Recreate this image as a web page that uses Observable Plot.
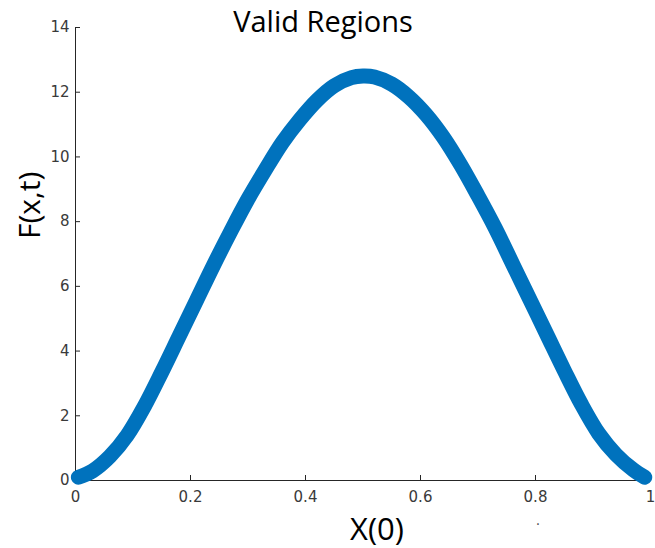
<!DOCTYPE html>
<html>
<head>
<meta charset="utf-8">
<script src="https://cdn.jsdelivr.net/npm/d3@7"></script>
<script src="https://cdn.jsdelivr.net/npm/@observablehq/plot@0.6"></script>
<style>
  html, body { margin: 0; padding: 0; background: #ffffff; }
  #chart svg { display: block; }
</style>
</head>
<body>
<div id="chart"></div>
<script>
// Values
const xValues = [0.005, 0.03, 0.06, 0.09, 0.12, 0.15, 0.18, 0.21, 0.24, 0.27, 0.30, 0.33, 0.36, 0.39, 0.42, 0.45, 0.48, 0.50,
                 0.52, 0.55, 0.58, 0.61, 0.64, 0.67, 0.70, 0.73, 0.76, 0.79, 0.82, 0.85, 0.88, 0.91, 0.94, 0.97, 0.99];
const fValues = [0.10, 0.30, 0.75, 1.40, 2.30, 3.35, 4.45, 5.55, 6.65, 7.70, 8.70, 9.60, 10.45, 11.15, 11.75, 12.20, 12.45, 12.50,
                 12.47, 12.25, 11.85, 11.30, 10.60, 9.75, 8.80, 7.80, 6.70, 5.60, 4.50, 3.40, 2.35, 1.45, 0.80, 0.33, 0.10];
const xTicks = [0, 0.2, 0.4, 0.6, 0.8, 1];
const xTickLabels = ["0", "0.2", "0.4", "0.6", "0.8", "1"];
const yTicks = [0, 2, 4, 6, 8, 10, 12, 14];
const yTickLabels = ["0", "2", "4", "6", "8", "10", "12", "14"];
const titleText = "Valid Regions";
const xLabel = "X(0)";
const yLabel = "F(x,t)";

const data = xValues.map((x, i) => ({x, f: fValues[i]}));

const chart = Plot.plot({
  width: 655,
  height: 548,
  marginLeft: 75,
  marginRight: 5,
  marginTop: 27,
  marginBottom: 68,
  style: {fontFamily: "DejaVu Sans, sans-serif", fontSize: "15px", color: "#333333", background: "#ffffff"},
  x: {domain: [0, 1]},
  y: {domain: [0, 14]},
  marks: [
    Plot.ruleX([0], {stroke: "#262626", strokeWidth: 1}),
    Plot.ruleY([0], {stroke: "#262626", strokeWidth: 1}),
    Plot.axisX({ticks: xTicks, tickFormat: (d, i) => xTickLabels[i], tickSize: -5, tickPadding: 16, stroke: "#262626", fill: "#3a3a3a", fontFamily: "DejaVu Sans, sans-serif", fontSize: 15, label: null}),
    Plot.axisY({ticks: yTicks, tickFormat: (d, i) => yTickLabels[i], tickSize: -5, tickPadding: 11, stroke: "#262626", fill: "#3a3a3a", fontFamily: "DejaVu Sans, sans-serif", fontSize: 15, label: null}),
    Plot.line(data, {x: "x", y: "f", stroke: "#0072BD", strokeWidth: 15, curve: "catmull-rom", strokeLinecap: "round", strokeLinejoin: "round"}),
    Plot.text([titleText], {frameAnchor: "top", dx: -40, dy: 4, fontSize: 29, fontFamily: "Open Sans, sans-serif", fill: "#000000", lineAnchor: "bottom"}),
    Plot.text([xLabel], {frameAnchor: "bottom", dx: 14, dy: 59, fontSize: 31, fontFamily: "Open Sans, sans-serif", fill: "#000000", lineAnchor: "bottom"}),
    Plot.text([yLabel], {frameAnchor: "left", dx: -45, dy: -15, rotate: -90, fontSize: 30, fontFamily: "Open Sans, sans-serif", fill: "#000000", lineAnchor: "middle"}),
    Plot.text(["."], {frameAnchor: "bottom", dx: 175, dy: 40, fontSize: 14, fill: "#555555", lineAnchor: "middle"})
  ]
});
document.getElementById("chart").appendChild(chart);
</script>
</body>
</html>
